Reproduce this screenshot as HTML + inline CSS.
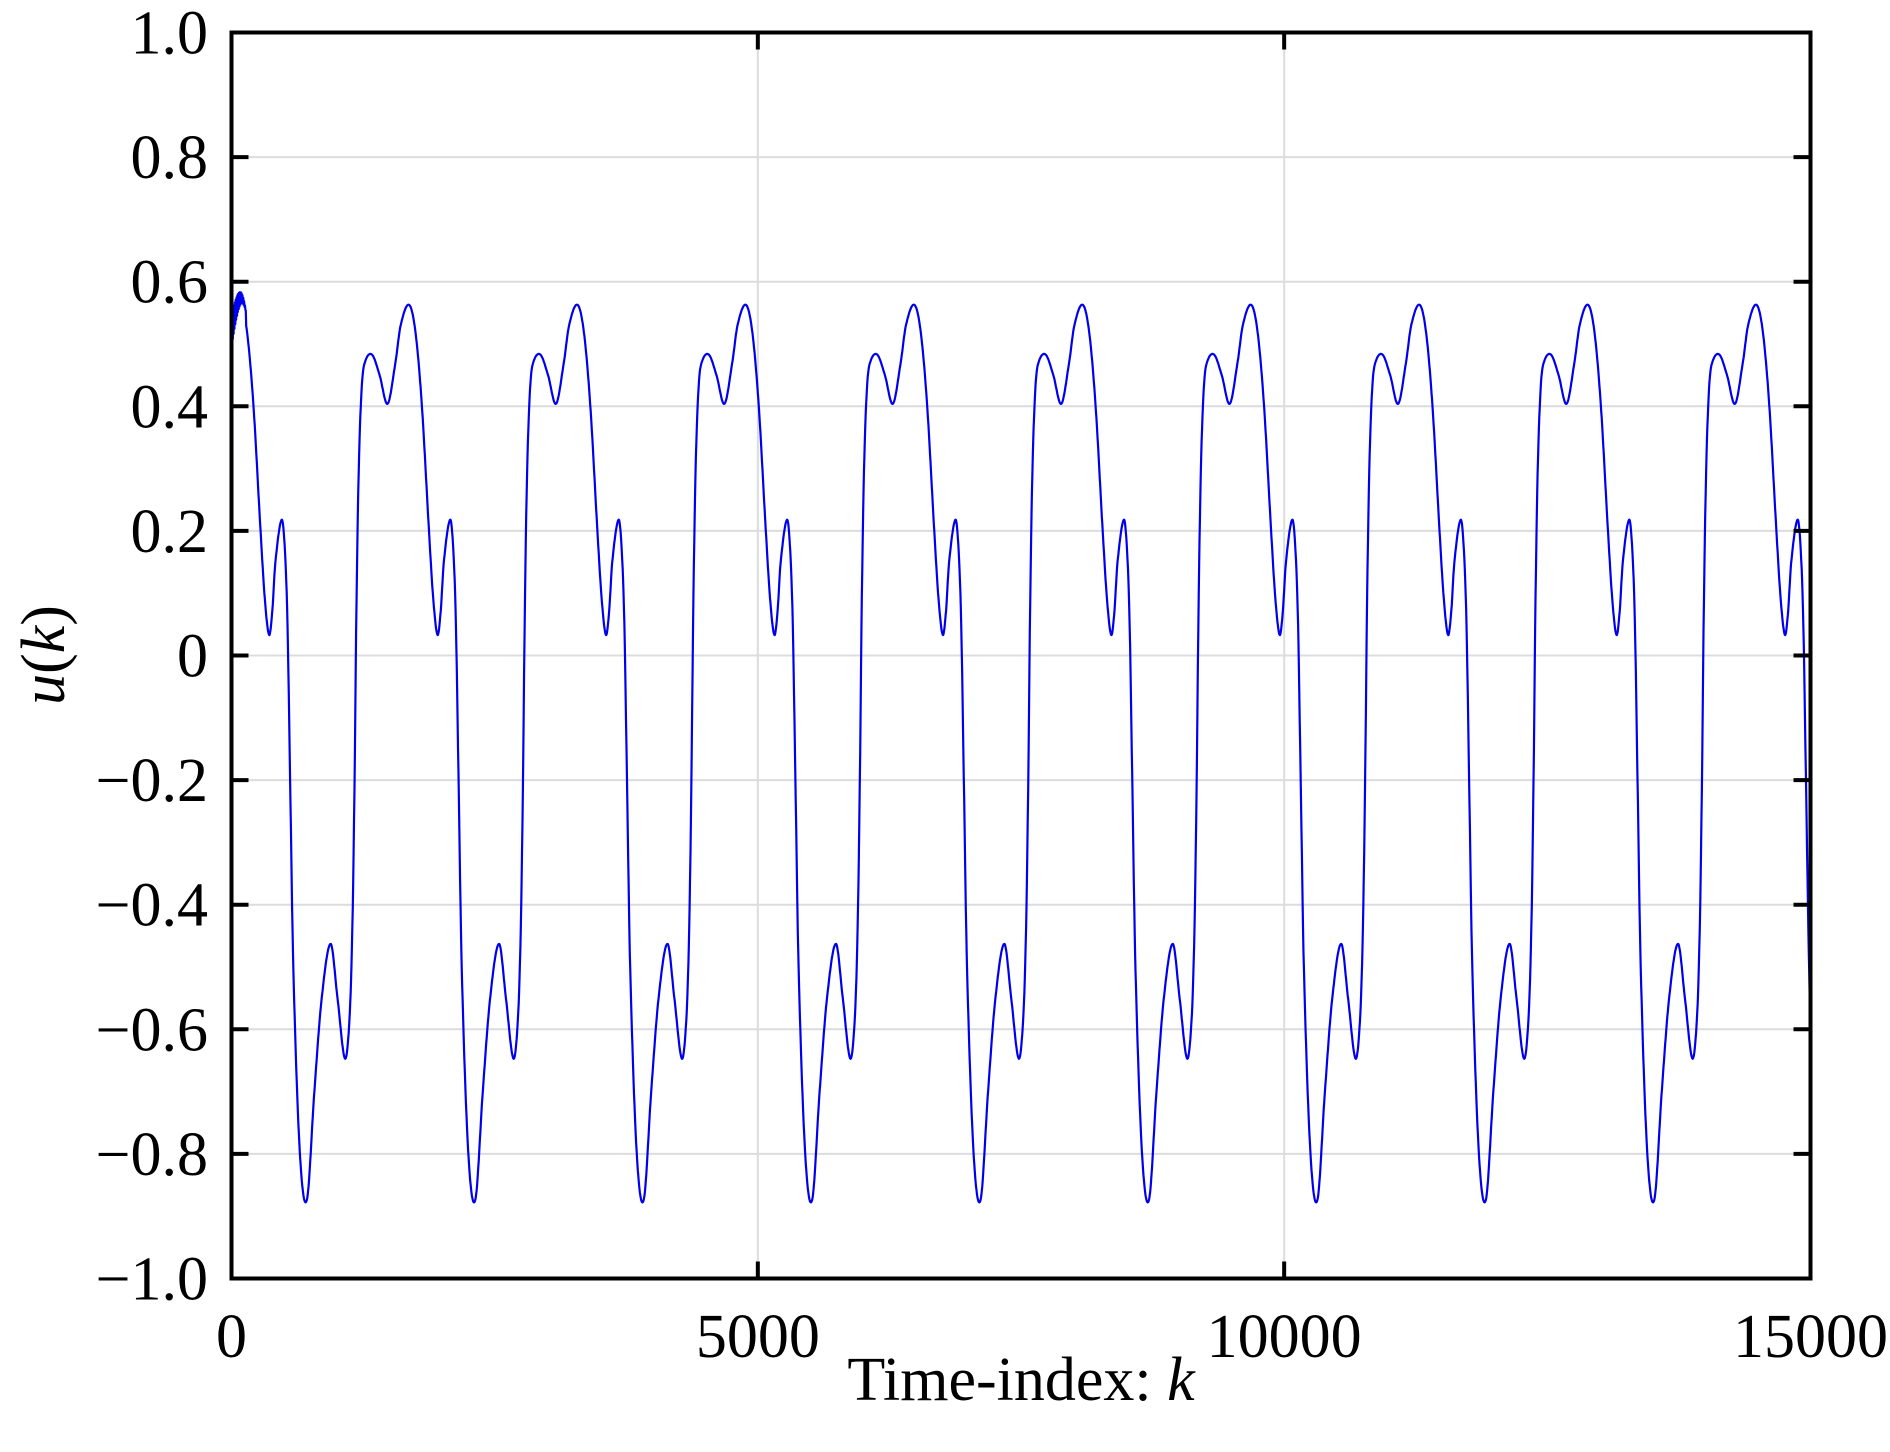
<!DOCTYPE html>
<html><head><meta charset="utf-8"><style>
html,body{margin:0;padding:0;background:#fff;}
svg{display:block;}
text{font-family:"Liberation Serif",serif;fill:#000;}
</style></head><body>
<svg id="s" width="1890" height="1452" viewBox="0 0 1890 1452" xmlns="http://www.w3.org/2000/svg">
<g id="grid" stroke="#dcdcdc" stroke-width="2"></g>
<path id="curve" fill="none" stroke="#0000ee" stroke-width="2.2" stroke-linejoin="round"/>
<g id="ticks" stroke="#000" stroke-width="4"></g>
<rect x="231.5" y="32.5" width="1579" height="1246" fill="none" stroke="#000" stroke-width="4"/>
<g id="labels" font-size="62"></g>
<text x="1021" y="1400" font-size="62" text-anchor="middle">Time-index: <tspan font-style="italic">k</tspan></text>
<text transform="translate(64,655) rotate(-90)" font-size="62" text-anchor="middle"><tspan font-style="italic">u</tspan>(<tspan font-style="italic">k</tspan>)</text>
</svg>
<script>
var L=231.5,R=1810.5,T=32.5,B=1278.5;
function X(k){return L+(R-L)*k/15000;}
function Y(v){return T+(B-T)*(1-v)/2;}
var ns="http://www.w3.org/2000/svg";
var grid=document.getElementById('grid'),ticks=document.getElementById('ticks'),lab=document.getElementById('labels');
function el(p,tag,a,txt){var e=document.createElementNS(ns,tag);for(var k in a)e.setAttribute(k,a[k]);if(txt!=null)e.textContent=txt;p.appendChild(e);return e;}
var yl=["1.0","0.8","0.6","0.4","0.2","0","\u22120.2","\u22120.4","\u22120.6","\u22120.8","\u22121.0"];
for(var i=0;i<=10;i++){var v=1-i*0.2,y=Y(v);
 if(i>0&&i<10){el(grid,'line',{x1:L,x2:R,y1:y,y2:y});
  el(ticks,'line',{x1:L,x2:L+17,y1:y,y2:y});el(ticks,'line',{x1:R-17,x2:R,y1:y,y2:y});}
 el(lab,'text',{x:208,y:y+21,'text-anchor':'end'},yl[i]);}
var xl=[0,5000,10000,15000];
xl.forEach(function(k){var x=X(k);
 if(k>0&&k<15000){el(grid,'line',{x1:x,x2:x,y1:T,y2:B});
  el(ticks,'line',{x1:x,x2:x,y1:B-17,y2:B});el(ticks,'line',{x1:x,x2:x,y1:T,y2:T+17});}
 el(lab,'text',{x:x,y:1357,'text-anchor':'middle'},String(k));});
var P=[[0,0.033],[30,0.07],[60,0.15],[120,0.218],[150,0.17],[175,0.05],[200,-0.2],[230,-0.5],[293,-0.8],[360,-0.873],[430,-0.7],[500,-0.55],[585,-0.463],[650,-0.55],[721,-0.647],[765,-0.58],[792,-0.43],[812,-0.2],[830,0.08],[852,0.3],[880,0.43],[909,0.47],[977,0.483],[1050,0.45],[1126,0.404],[1200,0.47],[1250,0.53],[1329,0.563],[1390,0.52],[1452,0.4],[1519,0.2],[1560,0.09],[1600,0.033]];
function f(p){p=((p%1600)+1600)%1600;var n=P.length;
 for(var i=0;i<n-1;i++){if(p<=P[i+1][0]){
  var p0=i>0?P[i-1]:[P[n-2][0]-1600,P[n-2][1]],p1=P[i],p2=P[i+1],p3=i+2<n?P[i+2]:[P[1][0]+1600,P[1][1]];
  var t=(p-p1[0])/(p2[0]-p1[0]);
  var m1=(p2[1]-p0[1])/(p2[0]-p0[0])*(p2[0]-p1[0]),m2=(p3[1]-p1[1])/(p3[0]-p1[0])*(p2[0]-p1[0]);
  var t2=t*t,t3=t2*t;
  return (2*t3-3*t2+1)*p1[1]+(t3-2*t2+t)*m1+(-2*t3+3*t2)*p2[1]+(t3-t2)*m2;}}
 return P[0][1];}
var d="";
for(var k=0;k<=15000;k+=4){var v=f(k-357);
 if(k<140){v=Math.min(v+0.02,0.585)-(k%8?0.05:0)*(1-k/140); if(k<12)v=0.42+k*0.013;}
 if(k>14990)v=-0.55;
 d+=(k?"L":"M")+X(k).toFixed(1)+" "+Y(v).toFixed(1);}
d+="L"+X(15000).toFixed(1)+" "+Y(-0.4).toFixed(1);
document.getElementById('curve').setAttribute('d',d);
</script>
</body></html>
